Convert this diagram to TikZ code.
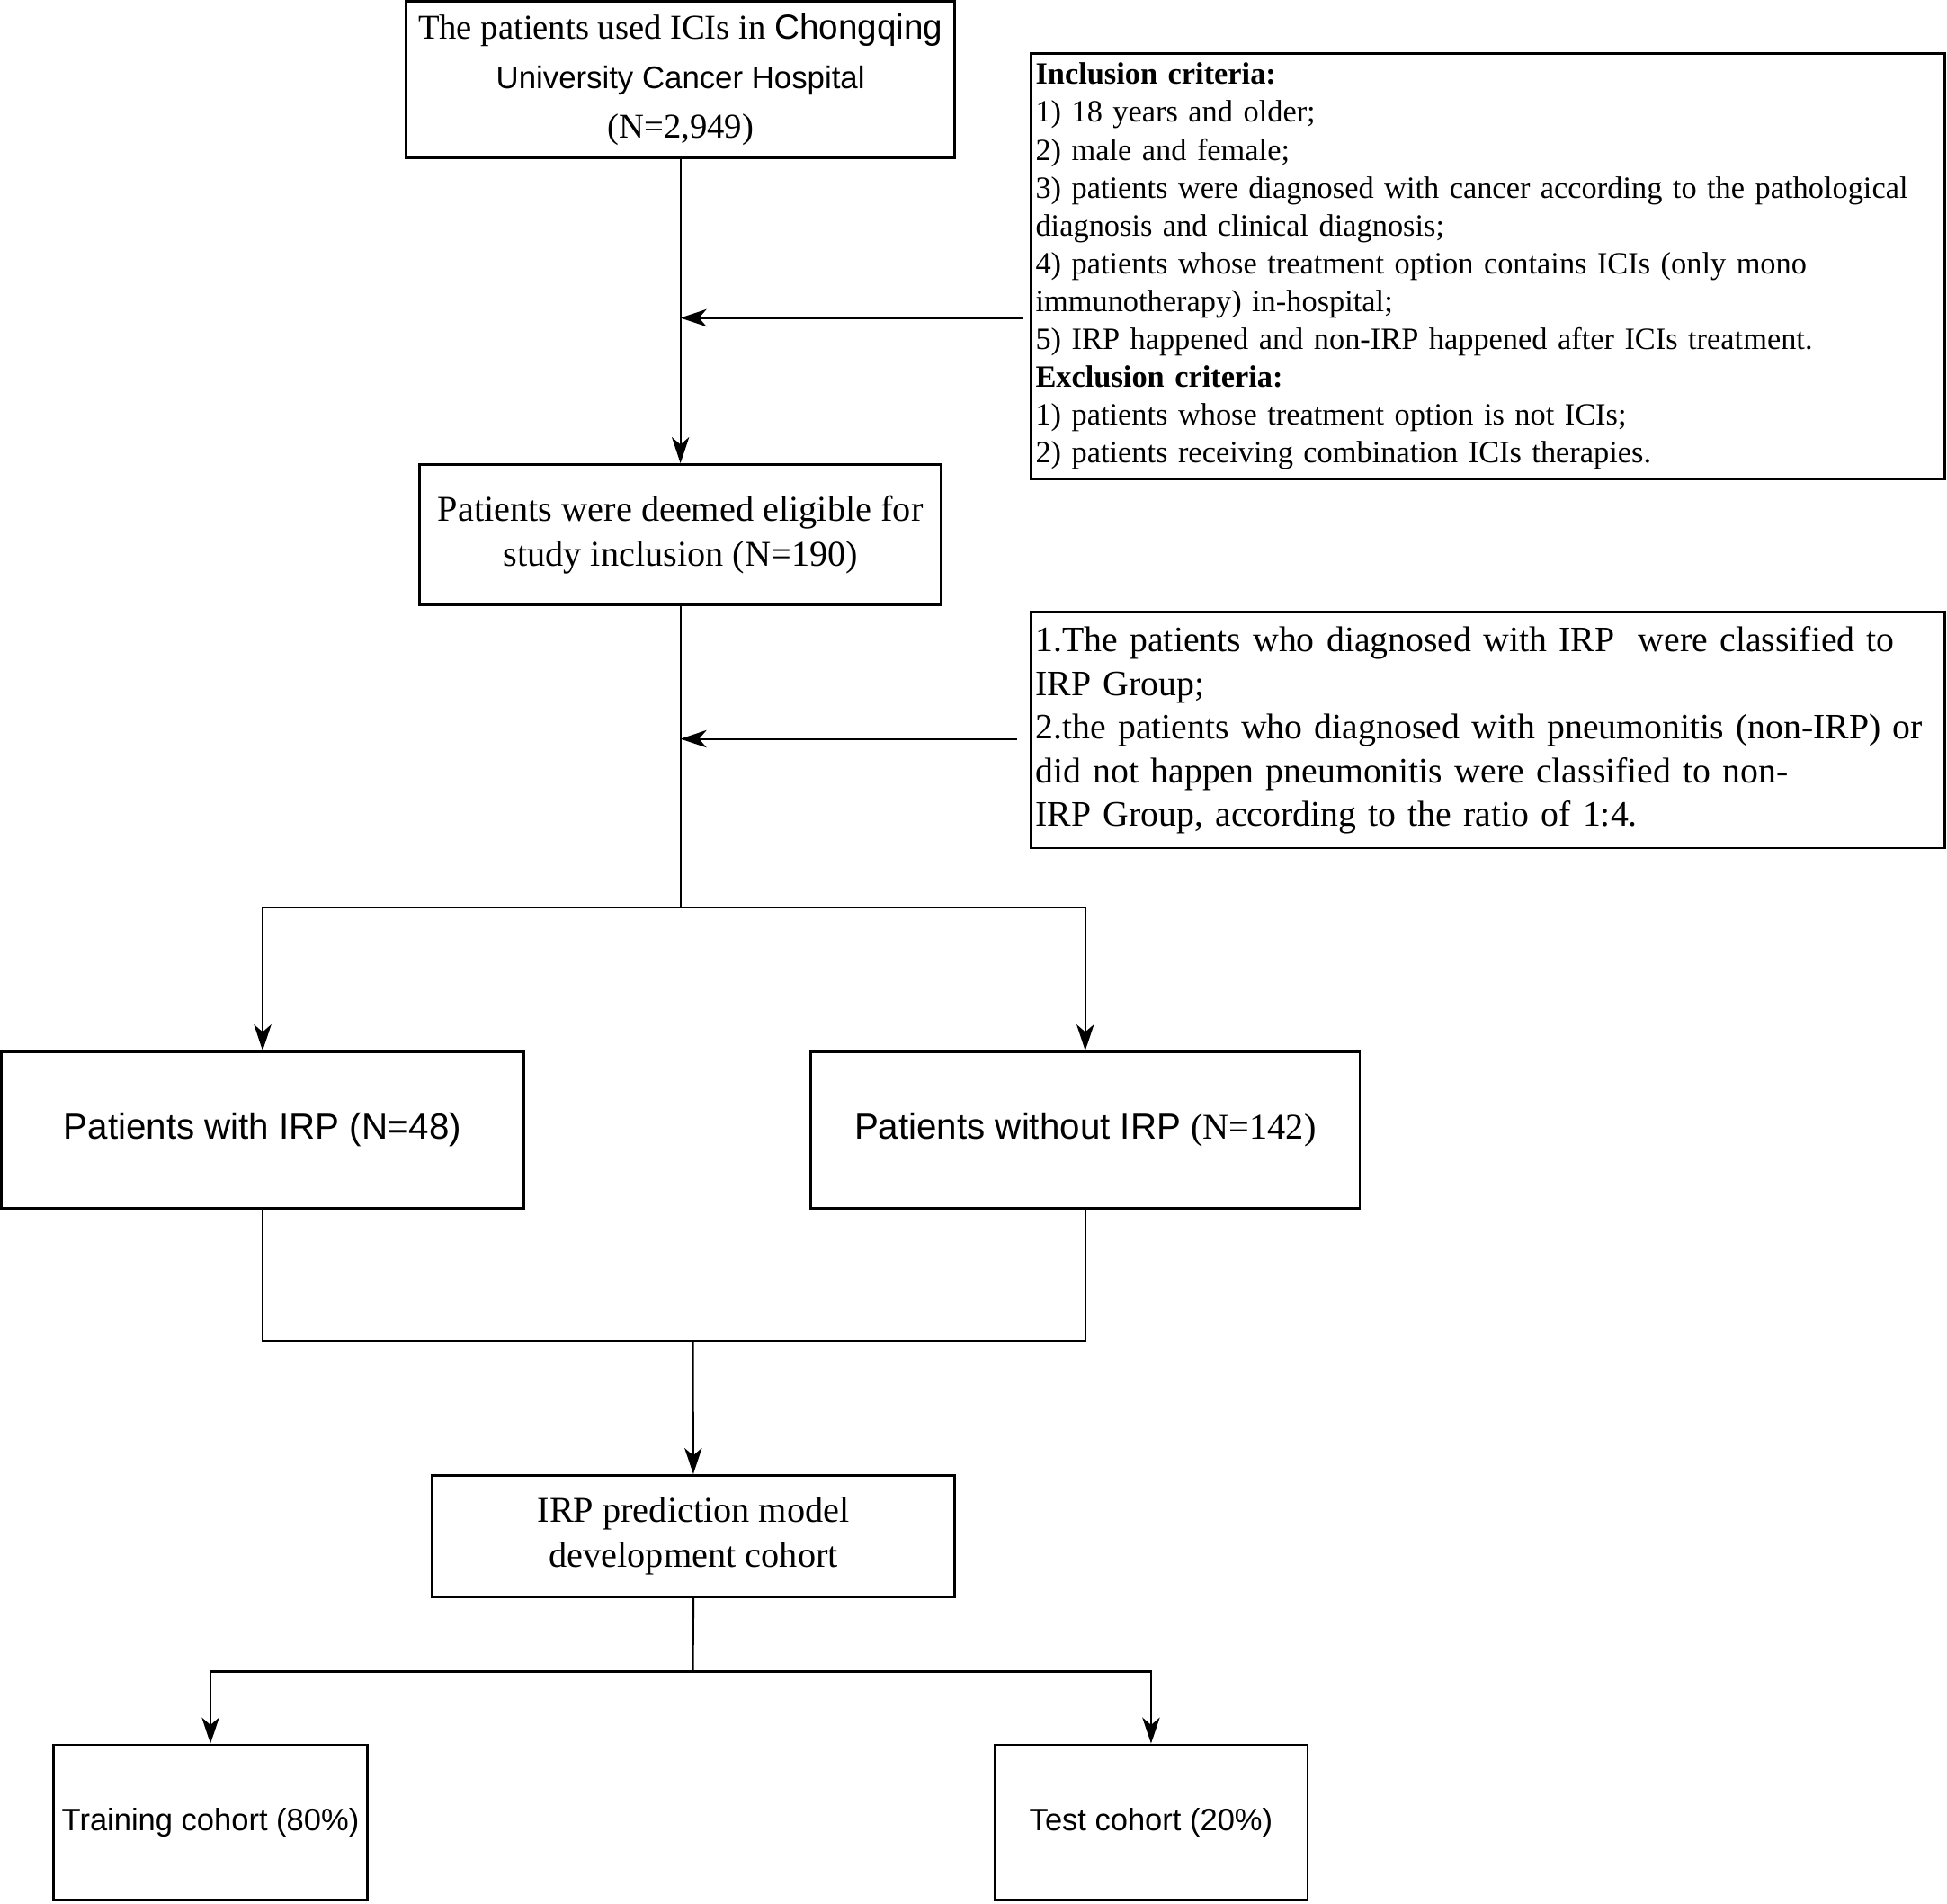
\documentclass[tikz,border=0pt]{standalone}
\usepackage{fontspec}
\setmainfont{Liberation Serif}
\setsansfont{Liberation Sans}
\usetikzlibrary{arrows.meta}

\begin{document}
\begin{tikzpicture}[x=0.5pt,y=0.5pt,yscale=-1,xscale=1,
  box/.style={draw, line width=1pt, inner sep=1.5pt, align=center},
  link/.style={line width=0.75pt},
  arrow/.style={link, -{Stealth[length=10.5pt,width=7pt,inset=3pt]}},
  bigtext/.style={font=\fontsize{14.6}{18}\selectfont},
  smalltext/.style={font=\fontsize{12.45}{15.25}\selectfont}
]
\useasboundingbox (0,0) rectangle (1568,1533);

%Shape: Rectangle [top]
\node[box, minimum width=221pt, minimum height=63pt, font=\fontsize{14}{20}\selectfont] (top) at (548,64)
  {The patients used ICIs in {\sffamily Chongqing}\\
   {\sffamily\fontsize{12.6}{20}\selectfont University Cancer Hospital}\\
   (N=2,949)};
%Shape: Rectangle [criteria]
\node[box, smalltext, minimum width=368pt, minimum height=171.5pt, text width=364pt, align=left] (incl) at (1198,214.5)
  {\textbf{Inclusion criteria:}\\
   1) 18 years and older;\\
   2) male and female;\\
   3) patients were diagnosed with cancer according to the pathological\\
   diagnosis and clinical diagnosis;\\
   4) patients whose treatment option contains ICIs (only mono\\
   immunotherapy) in-hospital;\\
   5) IRP happened and non-IRP happened after ICIs treatment.\\
   \textbf{Exclusion criteria:}\\
   1) patients whose treatment option is not ICIs;\\
   2) patients receiving combination ICIs therapies.};
%Shape: Rectangle [eligible]
\node[box, bigtext, minimum width=210pt, minimum height=56.5pt] (elig) at (548,430.5)
  {Patients were deemed eligible for\\study inclusion (N=190)};
%Shape: Rectangle [grouping]
\node[box, minimum width=368pt, minimum height=95pt, text width=364pt, align=left, font=\fontsize{14.4}{17.6}\selectfont] (group) at (1198,588)
  {1.The patients who diagnosed with IRP\ \ were classified to\\
   IRP Group;\\
   2.the patients who diagnosed with pneumonitis (non-IRP) or\\
   did not happen pneumonitis were classified to non-\\
   IRP Group, according to the ratio of 1:4.};
%Shape: Rectangle [groups]
\node[box, minimum width=210.5pt, minimum height=63pt, font=\sffamily\fontsize{14.6}{18}\selectfont] (irp) at (211.5,910)
  {Patients with IRP (N=48)};
\node[box, minimum width=221pt, minimum height=63pt, font=\sffamily\fontsize{14.6}{18}\selectfont] (nonirp) at (874,910)
  {Patients without IRP {\rmfamily(N=142)}};
%Shape: Rectangle [model]
\node[box, bigtext, minimum width=210.5pt, minimum height=49pt] (model) at (558.5,1237)
  {IRP prediction model\\development cohort};
%Shape: Rectangle [cohorts]
\node[box, minimum width=126.5pt, minimum height=62.5pt, font=\sffamily\fontsize{12.5}{15}\selectfont] (train) at (169.5,1467.5)
  {Training cohort (80\%)};
\node[box, minimum width=126pt, minimum height=62.5pt, font=\sffamily\fontsize{12.5}{15}\selectfont] (test) at (927,1467.5)
  {Test cohort (20\%)};

%Joints
\coordinate (m1) at (548,256);
\coordinate (m2) at (548,595);
\coordinate (split1) at (548,731);
\coordinate (merge) at (558,1080);
\coordinate (split2) at (558,1346);

%Straight Lines
\draw[arrow] (top) -- (elig);
\draw[arrow, shorten <=2.5pt] (incl.west |- m1) -- (m1);
\draw[link] (elig.south) -- (split1);
\draw[arrow, shorten <=5pt] (group.west |- m2) -- (m2);
\draw[arrow] (split1) -| (irp);
\draw[arrow] (split1) -| (nonirp);
\draw[link] (irp.south) |- (merge) -| (nonirp.south);
\draw[arrow] (merge) -- (model);
\draw[link] (model.south) -- (split2);
\draw[arrow] (split2) -| (train);
\draw[arrow] (split2) -| (test);

\end{tikzpicture}
\end{document}
